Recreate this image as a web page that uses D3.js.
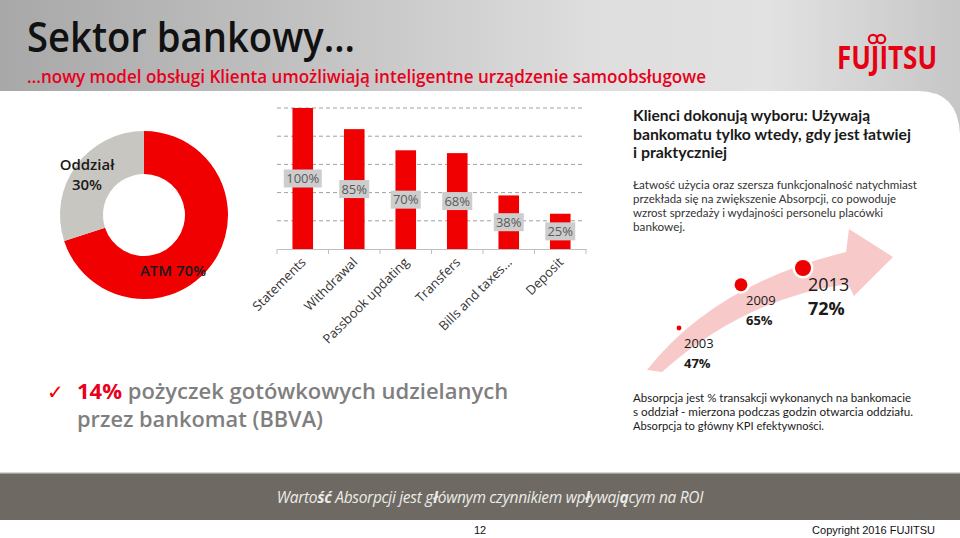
<!DOCTYPE html>
<html><head><meta charset="utf-8">
<script src="https://cdn.jsdelivr.net/npm/d3@7"></script>
<style>html,body{margin:0;padding:0;background:#fff;}svg{display:block;}</style>
</head><body>
<svg id="c" width="960" height="538"></svg>
<script>
// ---------- data ----------
const donutLabels = ["ATM", "Oddział"];
const donutValues = [70, 30];
const categories = ["Statements", "Withdrawal", "Passbook updating", "Transfers", "Bills and taxes...", "Deposit"];
const barValues = [100, 85, 70, 68, 38, 25];
const yTicks = [0, 20, 40, 60, 80, 100];
const years = ["2003", "2009", "2013"];
const absorption = [47, 65, 72];

const svg = d3.select("#c");
const FONT = "'Open Sans', 'Noto Sans', sans-serif";
const TFONT = "Lato, 'Open Sans', sans-serif";
const RED = "#f00000";

// ---------- background ----------
const defs = svg.append("defs");
const hg = defs.append("linearGradient").attr("id", "hg");
[[0, "#a8a8a8"], [0.3, "#c0c0c0"], [0.62, "#dedede"], [0.8, "#e2e2e2"], [1, "#c6c6c6"]]
  .forEach(([o, c]) => hg.append("stop").attr("offset", o).attr("stop-color", c));
svg.append("rect").attr("width", 960).attr("height", 140).attr("fill", "url(#hg)");
svg.append("path").attr("fill", "#fff")
  .attr("d", "M0,91 L918,91 Q958,91 960,134 L960,538 L0,538 Z");

// title
svg.append("text").attr("x", 27).attr("y", 52).attr("font-family", FONT).attr("font-size", 41)
  .attr("font-weight", 600).attr("fill", "#111").attr("textLength", 328).attr("lengthAdjust", "spacingAndGlyphs")
  .text("Sektor bankowy…");
svg.append("text").attr("x", 27).attr("y", 83).attr("font-family", FONT).attr("font-size", 18)
  .attr("font-weight", 600).attr("fill", "#e8001c").attr("textLength", 679).attr("lengthAdjust", "spacingAndGlyphs")
  .text("…nowy model obsługi Klienta umożliwiają inteligentne urządzenie samoobsługowe");

// Fujitsu logo
svg.append("text").attr("x", 887).attr("y", 69).attr("text-anchor", "middle").attr("font-family", FONT).attr("font-size", 26)
  .attr("font-weight", 700).attr("fill", "#e60012").attr("transform", "translate(887,0) scale(1,1.25) translate(-887,-13.8)")
  .text("FUJITSU");
const inf = svg.append("g").attr("fill", "none").attr("stroke", "#e60012").attr("stroke-width", 2.2);
inf.append("circle").attr("cx", 873).attr("cy", 39).attr("r", 4.2);
inf.append("circle").attr("cx", 881).attr("cy", 39).attr("r", 4.2);

// ---------- donut ----------
const pie = d3.pie().sort(null).value(d => d)(donutValues);
const arc = d3.arc().innerRadius(41).outerRadius(84);
const dg = svg.append("g").attr("transform", "translate(144,215)");
dg.selectAll("path").data(pie).join("path").attr("d", arc)
  .attr("fill", (d, i) => i === 0 ? RED : "#c8c6c1");
svg.append("text").attr("x", 87).attr("y", 170).attr("text-anchor", "middle").attr("font-family", FONT)
  .attr("font-size", 15).attr("font-weight", 600).attr("fill", "#1a1a1a").text(donutLabels[1]);
svg.append("text").attr("x", 87).attr("y", 190).attr("text-anchor", "middle").attr("font-family", FONT)
  .attr("font-size", 15).attr("font-weight", 600).attr("fill", "#1a1a1a").text(donutValues[1] + "%");
svg.append("text").attr("x", 173).attr("y", 276).attr("text-anchor", "middle").attr("font-family", FONT)
  .attr("font-size", 15).attr("font-weight", 600).attr("fill", "#1a1a1a").text(donutLabels[0] + " " + donutValues[0] + "%");

// ---------- bar chart ----------
const x = d3.scaleBand().domain(categories).range([277, 586]).paddingInner(0.6).paddingOuter(0.3);
const y = d3.scaleLinear().domain([0, 100]).range([249, 108]);
const bg = svg.append("g");
bg.selectAll("line.grid").data(yTicks.filter(t => t > 0)).join("line").attr("class", "grid")
  .attr("x1", 277).attr("x2", 584).attr("y1", d => y(d)).attr("y2", d => y(d))
  .attr("stroke", "#a0a0a0").attr("stroke-width", 1).attr("stroke-dasharray", "4,3");
bg.selectAll("rect.bar").data(barValues).join("rect").attr("class", "bar")
  .attr("x", (d, i) => x(categories[i])).attr("width", x.bandwidth())
  .attr("y", d => y(d)).attr("height", d => y(0) - y(d)).attr("fill", RED);
// axis
const xa = d3.axisBottom(x).tickSize(0).tickFormat("");
const axg = bg.append("g").attr("transform", `translate(0,${y(0)})`).call(xa);
axg.select(".domain").attr("stroke", "#bfbfbf");
const edges = d3.range(categories.length + 1).map(i => 277 + i * (309 / categories.length));
bg.selectAll("line.tk").data(edges).join("line").attr("class", "tk")
  .attr("x1", d => d).attr("x2", d => d).attr("y1", y(0)).attr("y2", y(0) + 5).attr("stroke", "#bfbfbf");
// value labels
barValues.forEach((v, i) => {
  const cx = x(categories[i]) + x.bandwidth() / 2;
  const cy = (y(v) + y(0)) / 2;
  const t = v + "%";
  const w = t.length * 8 + 6;
  bg.append("rect").attr("x", cx - w / 2).attr("y", cy - 9).attr("width", w).attr("height", 18).attr("fill", "#cdcdcd");
  bg.append("text").attr("x", cx).attr("y", cy + 4.5).attr("text-anchor", "middle").attr("font-family", FONT)
    .attr("font-size", 13).attr("fill", "#5a5a5a").text(t);
});
// category labels
categories.forEach((c, i) => {
  const cx = x(c) + x.bandwidth() / 2 + 4;
  bg.append("text").attr("transform", `translate(${cx},${y(0) + 14}) rotate(-45)`)
    .attr("text-anchor", "end").attr("font-family", FONT).attr("font-size", 13).attr("fill", "#333")
    .text(c);
});

// ---------- right text ----------
const hd = ["Klienci dokonują wyboru: Używają", "bankomatu tylko wtedy, gdy jest łatwiej", "i praktyczniej"];
const hdw = [237, 278, 94];
hd.forEach((t, i) => svg.append("text").attr("x", 633).attr("y", 121 + i * 18.5).attr("font-family", TFONT)
  .attr("font-size", 15).attr("font-weight", 700).attr("fill", "#1a1a1a")
  .attr("textLength", hdw[i]).attr("lengthAdjust", "spacingAndGlyphs").text(t));
const para = ["Łatwość użycia oraz szersza funkcjonalność natychmiast", "przekłada się na zwiększenie Absorpcji, co powoduje",
  "wzrost sprzedaży i wydajności personelu placówki", "bankowej."];
const pw = [284, 263, 250, 52];
para.forEach((t, i) => svg.append("text").attr("x", 633).attr("y", 189 + i * 14).attr("font-family", TFONT)
  .attr("font-size", 11.5).attr("fill", "#333").attr("textLength", pw[i]).attr("lengthAdjust", "spacingAndGlyphs").text(t));

// ---------- arrow + timeline ----------
svg.append("path").attr("fill", "#f8c9c9")
  .attr("d", "M647,370 Q715,284 846,252 L849,229 L893,257 L854,296 L848,284 Q745,298 662,372 Z");
const tx = d3.scalePoint().domain(years).range([679, 803]);
const ty = d3.scaleLinear().domain([47, 72]).range([328, 268]);
const tr = d3.scaleLinear().domain([45, 72]).range([2, 8]);
const tf = d3.scaleLinear().domain([47, 65, 72]).range([13, 13, 18]).clamp(true);
years.forEach((yr, i) => {
  const v = absorption[i];
  const cx = tx(yr), cy = ty(v), r = tr(v);
  svg.append("circle").attr("cx", cx).attr("cy", cy).attr("r", r + 2.5).attr("fill", "#fff");
  svg.append("circle").attr("cx", cx).attr("cy", cy).attr("r", r).attr("fill", "#ee0000");
  const fs = tf(v);
  svg.append("text").attr("x", cx + 5).attr("y", cy + 20 + (fs - 13) * 0.6).attr("font-family", FONT)
    .attr("font-size", fs).attr("fill", "#1a1a1a").text(yr);
  svg.append("text").attr("x", cx + 5).attr("y", cy + 40 + (fs - 13) * 1.4).attr("font-family", FONT)
    .attr("font-size", fs).attr("font-weight", 700).attr("fill", "#1a1a1a").text(v + "%");
});

// ---------- bottom left ----------
svg.append("text").attr("x", 47).attr("y", 399).attr("font-family", "'DejaVu Sans', sans-serif")
  .attr("font-size", 20).attr("fill", RED).text("✓");
const b1 = svg.append("text").attr("x", 77).attr("y", 399).attr("font-family", FONT).attr("font-size", 22)
  .attr("font-weight", 600).attr("fill", "#7f7f7f");
b1.append("tspan").attr("fill", "#e8001c").attr("font-weight", 700).text("14%");
b1.append("tspan").text(" pożyczek gotówkowych udzielanych");
svg.append("text").attr("x", 77).attr("y", 427).attr("font-family", FONT).attr("font-size", 22)
  .attr("font-weight", 600).attr("fill", "#7f7f7f").attr("textLength", 246).attr("lengthAdjust", "spacingAndGlyphs")
  .text("przez bankomat (BBVA)");

// ---------- bottom right ----------
const ab = ["Absorpcja jest % transakcji wykonanych na bankomacie", "s oddział - mierzona podczas godzin otwarcia oddziału.",
  "Absorpcja to główny KPI efektywności."];
const abw = [278, 280, 191];
ab.forEach((t, i) => svg.append("text").attr("x", 633).attr("y", 402 + i * 14).attr("font-family", TFONT)
  .attr("font-size", 11.5).attr("fill", "#1a1a1a").attr("textLength", abw[i]).attr("lengthAdjust", "spacingAndGlyphs").text(t));

// ---------- footer ----------
svg.append("rect").attr("x", 0).attr("y", 473).attr("width", 960).attr("height", 47).attr("fill", "#6e6a63");
svg.append("rect").attr("x", 0).attr("y", 472).attr("width", 960).attr("height", 1.5).attr("fill", "#d8d6d2");
const ft = svg.append("text").attr("x", 490).attr("y", 503).attr("text-anchor", "middle").attr("font-family", FONT)
  .attr("font-size", 15.5).attr("font-style", "italic").attr("fill", "#ecebe8").attr("letter-spacing", -0.3);
[["Warto", 400], ["ść", 700], [" Absorpcji jest g", 400], ["ł", 700], ["ównym czynnikiem wp", 400], ["ł", 700], ["ywaj", 400], ["ą", 700], ["cym na ROI", 400]]
  .forEach(([t, w]) => ft.append("tspan").attr("font-weight", w).text(t));
svg.append("text").attr("x", 480).attr("y", 534).attr("text-anchor", "middle").attr("font-family", "'Liberation Sans', Arial, sans-serif")
  .attr("font-size", 11).attr("fill", "#111").text("12");
svg.append("text").attr("x", 935).attr("y", 534).attr("text-anchor", "end").attr("font-family", "'Liberation Sans', Arial, sans-serif")
  .attr("font-size", 11).attr("fill", "#111").text("Copyright 2016 FUJITSU");
</script>
</body></html>
